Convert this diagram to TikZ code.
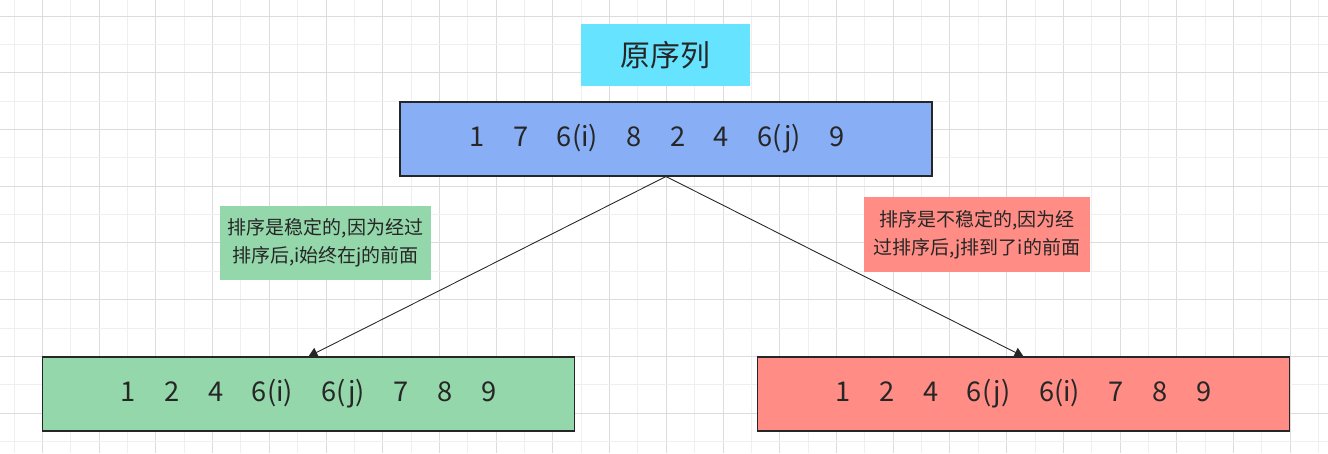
\documentclass[tikz,border=0pt]{standalone}
\usepackage{fontspec}
\setmainfont{Noto Sans CJK SC}
\usepackage{tikz}
\usetikzlibrary{arrows.meta, positioning, calc}

\definecolor{cyanbox}{HTML}{66E3FF}
\definecolor{bluebox}{HTML}{88AFF5}
\definecolor{greenbox}{HTML}{93D7AA}
\definecolor{redbox}{HTML}{FF8D85}
\definecolor{gridmin}{HTML}{EFEFEF}
\definecolor{gridmaj}{HTML}{DCDCDC}

\newcommand{\gp}{\hspace{1.05em}}

\tikzset{
  seqbox/.style={draw=black!85, line width=0.6pt, minimum width=10.64cm, minimum height=1.48cm,
    text height=0.95em, text depth=0.1em,
    font=\fontsize{15.5}{18}\selectfont, text=black!85},
  notebox/.style={align=center, inner sep=0pt, font=\fontsize{10.8}{16.2}\selectfont, text=black!85},
  link/.style={-{Triangle[length=0.18cm, width=0.2cm]}, line width=0.5pt, black!85}
}

\begin{document}
\begin{tikzpicture}
        \useasboundingbox (0,0) rectangle (26.56,-9.06);
        % Grid
        \foreach \i in {0,...,46} {
          \pgfmathsetmacro{\gx}{0.28+0.5672*\i}
          \ifodd\i
            \draw[gridmaj, line width=0.5pt] (\gx,0) -- (\gx,-9.06);
          \else
            \draw[gridmin, line width=0.5pt] (\gx,0) -- (\gx,-9.06);
          \fi
        }
        \foreach \j in {0,...,15} {
          \pgfmathsetmacro{\gy}{-0.32-0.5672*\j}
          \ifodd\j
            \draw[gridmin, line width=0.5pt] (0,\gy) -- (26.56,\gy);
          \else
            \draw[gridmaj, line width=0.5pt] (0,\gy) -- (26.56,\gy);
          \fi
        }

        % Title
        \node[fill=cyanbox, minimum width=3.38cm, minimum height=1.24cm,
          font=\fontsize{17}{20}\selectfont, text=black!85] (title) at (13.31,-1.1) {原序列};

        % Sequences
        \node[seqbox, fill=bluebox] (orig) at (13.32,-2.78) {1\gp 7\gp 6(i)\gp 8\gp 2\gp 4\gp 6(j)\gp 9\hspace{0.65em}\null};
        \node[seqbox, fill=greenbox] (stable) at (6.17,-7.88) {1\gp 2\gp 4\gp 6(i)\gp 6(j)\gp 7\gp 8\gp 9};
        \node[seqbox, fill=redbox] (unstable) at (20.47,-7.88) {1\gp 2\gp 4\gp 6(j)\gp 6(i)\gp 7\gp 8\gp 9};

        % Notes
        \node[notebox, fill=greenbox, minimum width=4.22cm, minimum height=1.48cm] (nstable) at (6.51,-4.86)
          {排序是稳定的,因为经过\\排序后,i始终在j的前面};
        \node[notebox, fill=redbox, minimum width=4.52cm, minimum height=1.5cm] (nunstable) at (19.54,-4.69)
          {排序是不稳定的,因为经\\过排序后,j排到了i的前面};

        % Connections
        \draw[link] (orig.south) -- (stable.north);
        \draw[link] (orig.south) -- (unstable.north);
      \end{tikzpicture}
\end{document}
